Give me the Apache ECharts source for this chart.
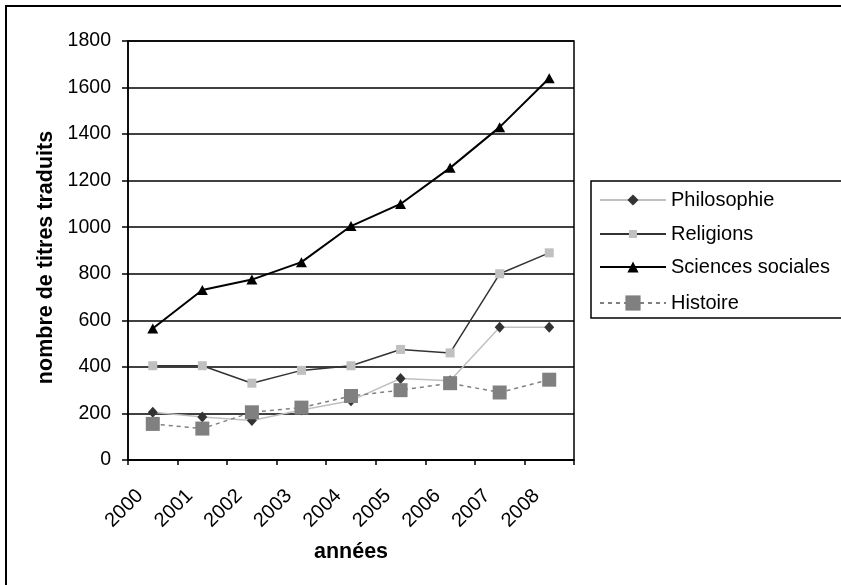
<!DOCTYPE html>
<html>
<head>
<meta charset="utf-8">
<script src="https://cdn.jsdelivr.net/npm/echarts@6/dist/echarts.min.js"></script>
<style>
html,body{margin:0;padding:0;background:#fff;}
#chart{width:841px;height:585px;}
</style>
</head>
<body>
<div id="chart"></div>
<script>
const categories = ['2000','2001','2002','2003','2004','2005','2006','2007','2008'];
const philosophie = [205, 185, 170, 215, 255, 350, 340, 570, 570];
const religions = [405, 405, 330, 385, 405, 475, 460, 800, 890];
const sciencesSociales = [565, 730, 775, 850, 1005, 1100, 1255, 1430, 1640];
const histoire = [155, 135, 205, 225, 275, 300, 330, 290, 345];
const seriesNames = ['Philosophie', 'Religions', 'Sciences sociales', 'Histoire'];

const FONT = '"Liberation Sans", Arial, sans-serif';
const chart = echarts.init(document.getElementById('chart'), null, {renderer: 'canvas'});

function legendFor(name, top, itemHeight) {
  return {
    data: [name],
    orient: 'vertical',
    left: 599,
    top: top,
    padding: 0,
    itemWidth: 66,
    itemHeight: itemHeight,
    itemGap: 5,
    selectedMode: false,
    textStyle: {fontFamily: FONT, fontSize: 20, color: '#000', lineHeight: 20}
  };
}

chart.setOption({
  animation: false,
  backgroundColor: '#fff',
  textStyle: {fontFamily: FONT},
  grid: {left: 128, right: 267, top: 41, bottom: 125, show: true, borderColor: '#000', borderWidth: 1.5, backgroundColor: 'transparent'},
  legend: [
    legendFor(seriesNames[0], 190, 14),
    legendFor(seriesNames[1], 224, 10),
    legendFor(seriesNames[2], 257, 14),
    legendFor(seriesNames[3], 293, 19)
  ],
  graphic: [
    {type: 'polyline', shape: {points: [[6, 700], [6, 6], [950, 6]]}, style: {fill: 'none', stroke: '#000', lineWidth: 2}, silent: true},
    {type: 'polyline', shape: {points: [[950, 181], [591, 181], [591, 318], [950, 318]]}, style: {fill: 'none', stroke: '#000', lineWidth: 1.5}, silent: true, z: -1}
  ],
  xAxis: {
    type: 'category',
    data: categories,
    boundaryGap: true,
    name: 'années',
    nameLocation: 'middle',
    nameGap: 81,
    nameTextStyle: {fontFamily: FONT, fontSize: 21.5, fontWeight: 'bold', color: '#000'},
    axisLine: {lineStyle: {color: '#000', width: 1.5}},
    axisTick: {show: true, length: 5, lineStyle: {color: '#000', width: 1.5}},
    axisLabel: {rotate: 45, fontFamily: FONT, fontSize: 20, color: '#000', margin: 20, interval: 0, padding: [0, 18, 0, 0]},
    splitLine: {show: false}
  },
  yAxis: {
    type: 'value',
    min: 0,
    max: 1800,
    interval: 200,
    name: 'nombre de titres traduits',
    nameLocation: 'middle',
    nameRotate: 90,
    nameGap: 71,
    nameTextStyle: {fontFamily: FONT, fontSize: 21.5, fontWeight: 'bold', color: '#000', padding: [0, 14, 0, 0]},
    axisLine: {show: true, lineStyle: {color: '#000', width: 1.5}},
    axisTick: {show: true, length: 6, lineStyle: {color: '#000', width: 1.5}},
    axisLabel: {fontFamily: FONT, fontSize: 19.5, color: '#000', margin: 17, formatter: function (v) { return String(v); }},
    splitLine: {show: true, lineStyle: {color: '#000', width: 1.5}}
  },
  series: [
    {
      name: seriesNames[0], type: 'line', data: philosophie,
      symbol: 'diamond', symbolSize: [10, 11],
      lineStyle: {color: '#c0c0c0', width: 1.5},
      itemStyle: {color: '#333333', borderWidth: 0},
      emphasis: {disabled: true}, z: 2
    },
    {
      name: seriesNames[1], type: 'line', data: religions,
      symbol: 'rect', symbolSize: 9,
      lineStyle: {color: '#333333', width: 1.5},
      itemStyle: {color: '#c0c0c0', borderWidth: 0},
      emphasis: {disabled: true}, z: 3
    },
    {
      name: seriesNames[2], type: 'line', data: sciencesSociales,
      symbol: 'triangle', symbolSize: [11, 10],
      lineStyle: {color: '#000000', width: 2},
      itemStyle: {color: '#000000', borderWidth: 0},
      emphasis: {disabled: true}, z: 4
    },
    {
      name: seriesNames[3], type: 'line', data: histoire,
      symbol: 'rect', symbolSize: 14,
      lineStyle: {color: '#808080', width: 1.5, type: [4, 4]},
      itemStyle: {color: '#808080', borderWidth: 0},
      emphasis: {disabled: true}, z: 5
    }
  ]
});
</script>
</body>
</html>
